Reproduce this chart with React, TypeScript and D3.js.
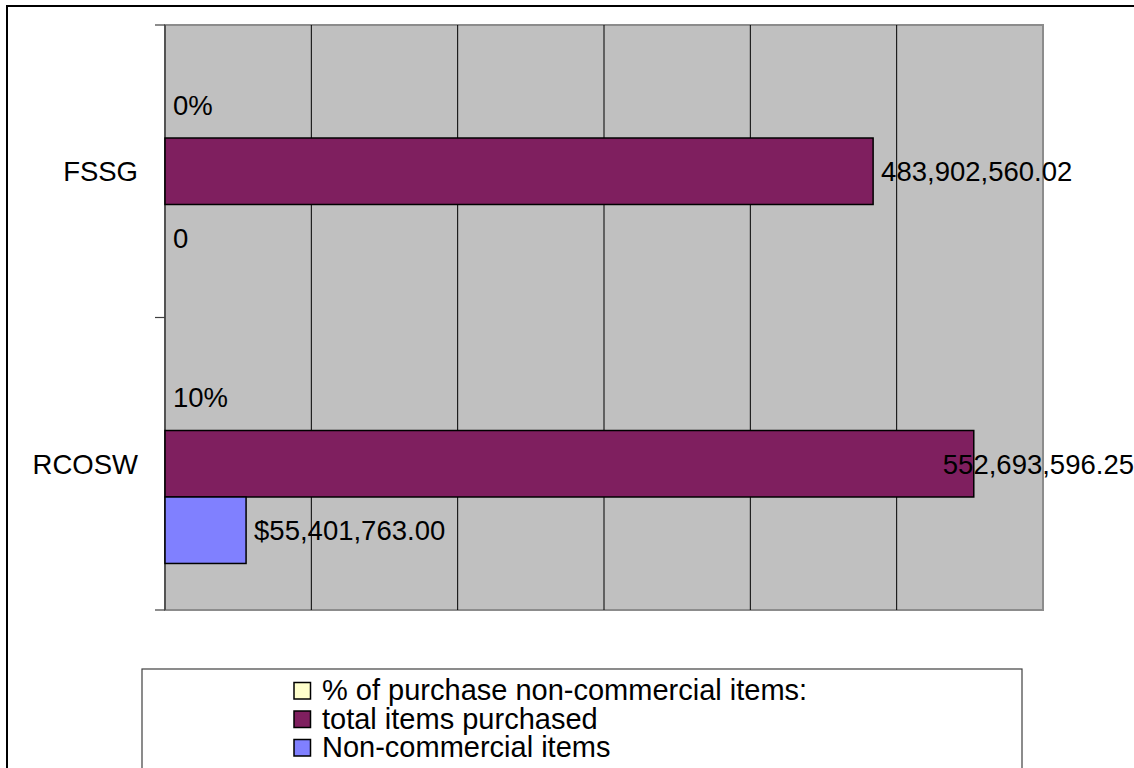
import React, { useEffect, useRef } from "react";
import * as d3 from "d3";

const categories = ["FSSG", "RCOSW"];
const seriesNames = [
  "% of purchase non-commercial items:",
  "total items purchased",
  "Non-commercial items",
];
const pctValues = [0, 0.1];
const totalValues = [483902560.02, 552693596.25];
const nonCommercialValues = [0, 55401763.0];
const seriesColors = ["#FFFFCC", "#7F1F5F", "#8080FF"];
const valueTicks = [0, 100e6, 200e6, 300e6, 400e6, 500e6, 600e6];

const W = 1134;
const H = 768;
const FONT = "'Liberation Sans', Arial, sans-serif";

export default function App() {
  const ref = useRef<SVGSVGElement>(null);

  useEffect(() => {
    const svg = d3.select(ref.current);
    svg.selectAll("*").remove();

    const left = 165, right = 1043, top = 25, bottom = 610;
    const x = d3.scaleLinear().domain([0, 600e6]).range([left, right]);
    const y0 = d3.scaleBand<string>().domain(categories).range([top, bottom]).padding(0);
    const y1 = d3
      .scaleBand<number>()
      .domain([0, 1, 2])
      .range([0, y0.bandwidth()])
      .paddingInner(0)
      .paddingOuter(0.7);

    // outer border
    svg.append("rect")
      .attr("x", 7).attr("y", 6).attr("width", W + 20).attr("height", H + 20)
      .attr("fill", "white").attr("stroke", "#000").attr("stroke-width", 2);

    // plot background
    svg.append("rect")
      .attr("x", left).attr("y", top).attr("width", right - left).attr("height", bottom - top)
      .attr("fill", "#C0C0C0").attr("stroke", "#8C8C8C").attr("stroke-width", 2);

    // gridlines
    svg.append("g").selectAll("line")
      .data(valueTicks.slice(1, -1))
      .join("line")
      .attr("x1", (d) => x(d)).attr("x2", (d) => x(d))
      .attr("y1", top).attr("y2", bottom)
      .attr("stroke", "#000").attr("stroke-width", 1);

    // category axis
    svg.append("line")
      .attr("x1", left).attr("x2", left).attr("y1", top).attr("y2", bottom)
      .attr("stroke", "#404040").attr("stroke-width", 1.5);
    const tickYs = [top, ...categories.map((c) => (y0(c) as number) + y0.bandwidth())];
    svg.append("g").selectAll("line")
      .data(tickYs)
      .join("line")
      .attr("x1", left - 10).attr("x2", left)
      .attr("y1", (d) => d).attr("y2", (d) => d)
      .attr("stroke", "#404040").attr("stroke-width", 1.2);

    // category labels
    svg.append("g").selectAll("text")
      .data(categories)
      .join("text")
      .attr("x", 138)
      .attr("y", (d) => (y0(d) as number) + y0.bandwidth() / 2)
      .attr("dy", "0.36em")
      .attr("text-anchor", "end")
      .attr("font-family", FONT).attr("font-size", 27.5).attr("fill", "#000")
      .text((d) => d);

    const fmt2 = d3.format(",.2f");
    const seriesData = [pctValues, totalValues, nonCommercialValues];
    const formatters = [
      (v: number) => d3.format(".0%")(v),
      (v: number) => fmt2(v),
      (v: number) => (v === 0 ? "0" : "$" + fmt2(v)),
    ];

    const bars: { cat: string; s: number; v: number }[] = [];
    categories.forEach((cat, ci) => {
      seriesData.forEach((arr, s) => bars.push({ cat, s, v: arr[ci] }));
    });

    svg.append("g").selectAll("rect")
      .data(bars.filter((b) => x(b.v) - x(0) > 1))
      .join("rect")
      .attr("x", x(0))
      .attr("y", (b) => (y0(b.cat) as number) + (y1(b.s) as number))
      .attr("width", (b) => x(b.v) - x(0))
      .attr("height", y1.bandwidth())
      .attr("fill", (b) => seriesColors[b.s])
      .attr("stroke", "#000").attr("stroke-width", 1.5);

    const labels = svg.append("g").selectAll("text")
      .data(bars)
      .join("text")
      .attr("x", (b) => x(b.v) + 8)
      .attr("y", (b) => (y0(b.cat) as number) + (y1(b.s) as number) + y1.bandwidth() / 2)
      .attr("dy", "0.36em")
      .attr("font-family", FONT).attr("font-size", 27.5).attr("fill", "#000")
      .text((b) => formatters[b.s](b.v));
    labels.each(function () {
      const t = this as SVGTextElement;
      const w = t.getComputedTextLength();
      const xx = parseFloat(t.getAttribute("x") || "0");
      if (xx + w > W) t.setAttribute("x", String(W - w));
    });

    // legend
    const lx = 142, ly = 669;
    svg.append("rect")
      .attr("x", lx).attr("y", ly).attr("width", 1022 - lx).attr("height", 120)
      .attr("fill", "white").attr("stroke", "#404040").attr("stroke-width", 1.2);
    const rowBase = [700, 728.5, 757];
    const lg = svg.append("g").selectAll("g")
      .data(seriesNames)
      .join("g");
    lg.append("rect")
      .attr("x", 294).attr("y", (_d, i) => rowBase[i] - 17.5)
      .attr("width", 16.5).attr("height", 16.5)
      .attr("fill", (_d, i) => seriesColors[i])
      .attr("stroke", "#000").attr("stroke-width", 1.5);
    lg.append("text")
      .attr("x", 322).attr("y", (_d, i) => rowBase[i])
      .attr("font-family", FONT).attr("font-size", 29).attr("fill", "#000")
      .text((d) => d);
  }, []);

  return (
    <svg
      ref={ref}
      width={W}
      height={H}
      style={{ position: "absolute", left: 0, top: 0, background: "white" }}
    />
  );
}
